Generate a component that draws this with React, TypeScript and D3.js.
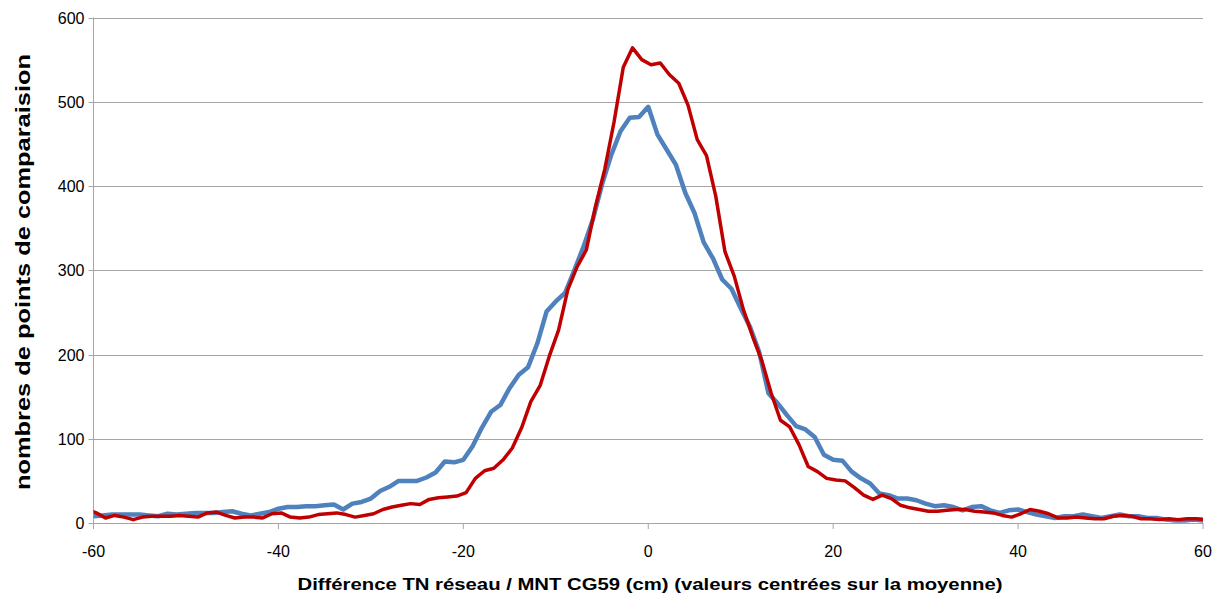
import React from "react";
import * as d3 from "d3";

const W = 1223;
const H = 597;

const xTicks = [-60, -40, -20, 0, 20, 40, 60];
const yTicks = [0, 100, 200, 300, 400, 500, 600];

// Blue series: x = -60 .. 60 (step 1)
const blueX = d3.range(-60, 61);
const blueValues = [
  8, 9, 10, 10, 10, 10, 9, 8, 11, 10,
  11, 12, 12, 12, 13, 14, 11, 9, 11, 13,
  17, 19, 19, 20, 20, 21, 22, 16, 23, 25,
  29, 38, 43, 50, 50, 50, 54, 60, 73, 72,
  75, 91, 113, 132, 140, 160, 176, 185, 213, 251,
  263, 273, 300, 328, 360, 402, 437, 465, 481, 482,
  494,
  461, 443, 425, 392, 368, 333, 314, 289, 278, 255,
  233, 203, 154, 142, 128, 115, 111, 102, 81, 75,
  74, 61, 53, 47, 35, 33, 29, 29, 27, 23,
  20, 21, 19, 15, 19, 20, 15, 12, 15, 16,
  13, 10, 8, 6, 8, 8, 10, 8, 6, 8,
  10, 8, 8, 6, 6, 4, 3, 3, 4, 3,
];

// Red series: centred on its own mean, so its x positions are offset (-60.7 .. 60.3)
const redX = d3.range(-61, 61).map((k) => k + 0.3);
const redValues = [
  16,
  12, 6, 9, 7, 4, 7, 8, 8, 8, 9,
  8, 7, 12, 13, 9, 6, 7, 7, 6, 11,
  12, 7, 6, 7, 10, 11, 12, 10, 7, 9,
  11, 16, 19, 21, 23, 22, 28, 30, 31, 32,
  36, 53, 62, 65, 75, 89, 113, 144, 163, 198,
  229, 277, 304, 324, 376, 420, 476, 541, 564, 550,
  544,
  546, 532, 522, 496, 455, 436, 388, 322, 293, 253,
  221, 192, 154, 122, 114, 93, 67, 61, 53, 51,
  50, 42, 33, 28, 33, 29, 21, 18, 16, 14,
  14, 15, 16, 16, 14, 13, 12, 9, 7, 11,
  16, 14, 11, 6, 6, 7, 6, 5, 5, 8,
  9, 8, 5, 5, 4, 5, 4, 5, 5, 4,
];

const xTitle = "Différence TN réseau / MNT CG59 (cm) (valeurs centrées sur la moyenne)";
const yTitle = "nombres de points de comparaision";

export default function App() {
  const left = 93.5;
  const right = 1203;
  const top = 17.5;
  const bottom = 523;

  const x = d3.scaleLinear().domain([-60, 60]).range([left, right]);
  const y = d3.scaleLinear().domain([0, 600]).range([bottom, top]);

  const line = d3
    .line<[number, number]>()
    .x((d) => x(d[0]))
    .y((d) => y(d[1]));

  const blueData: [number, number][] = blueX.map((v, i) => [v, blueValues[i]]);
  const redData: [number, number][] = redX.map((v, i) => [v, redValues[i]]);

  const font = "'Liberation Sans', Arial, sans-serif";
  const gridColor = "#A6A6A6";

  return (
    <svg
      width={W}
      height={H}
      style={{ position: "absolute", left: 0, top: 0, background: "#fff" }}
    >
      <defs>
        <clipPath id="plotClip">
          <rect x={left} y={0} width={right - left} height={bottom} />
        </clipPath>
      </defs>
      {/* gridlines */}
      {yTicks.map((t) => (
        <line
          key={"g" + t}
          x1={left - 5}
          x2={right}
          y1={Math.round(y(t)) + 0.5}
          y2={Math.round(y(t)) + 0.5}
          stroke={gridColor}
          strokeWidth={1}
        />
      ))}
      {/* y axis line */}
      <line x1={left} x2={left} y1={top} y2={bottom} stroke={gridColor} strokeWidth={1} />
      {/* x tick marks */}
      {xTicks.map((t) => (
        <line
          key={"xt" + t}
          x1={x(t)}
          x2={x(t)}
          y1={bottom}
          y2={bottom + 6}
          stroke={gridColor}
          strokeWidth={1}
        />
      ))}
      {/* y tick labels */}
      {yTicks.map((t) => (
        <text
          key={"yl" + t}
          x={left - 9}
          y={y(t) + 6}
          textAnchor="end"
          fontFamily={font}
          fontSize={16}
          fill="#000"
        >
          {t}
        </text>
      ))}
      {/* x tick labels */}
      {xTicks.map((t) => (
        <text
          key={"xl" + t}
          x={x(t)}
          y={557}
          textAnchor="middle"
          fontFamily={font}
          fontSize={16}
          fill="#000"
        >
          {t}
        </text>
      ))}
      {/* series */}
      <g clipPath="url(#plotClip)">
        <path
          d={line(blueData) || ""}
          fill="none"
          stroke="#4F81BD"
          strokeWidth={4.5}
          strokeLinejoin="round"
          strokeLinecap="round"
        />
        <path
          d={line(redData) || ""}
          fill="none"
          stroke="#C00000"
          strokeWidth={3.5}
          strokeLinejoin="round"
          strokeLinecap="round"
        />
      </g>
      {/* axis titles */}
      <text
        x={650}
        y={590}
        textAnchor="middle"
        fontFamily={font}
        fontWeight="bold"
        fontSize={17}
        textLength={705}
        lengthAdjust="spacingAndGlyphs"
        fill="#000"
      >
        {xTitle}
      </text>
      <text
        transform={`translate(30, 272) rotate(-90)`}
        textAnchor="middle"
        fontFamily={font}
        fontWeight="bold"
        fontSize={20}
        textLength={436}
        lengthAdjust="spacingAndGlyphs"
        fill="#000"
      >
        {yTitle}
      </text>
    </svg>
  );
}
